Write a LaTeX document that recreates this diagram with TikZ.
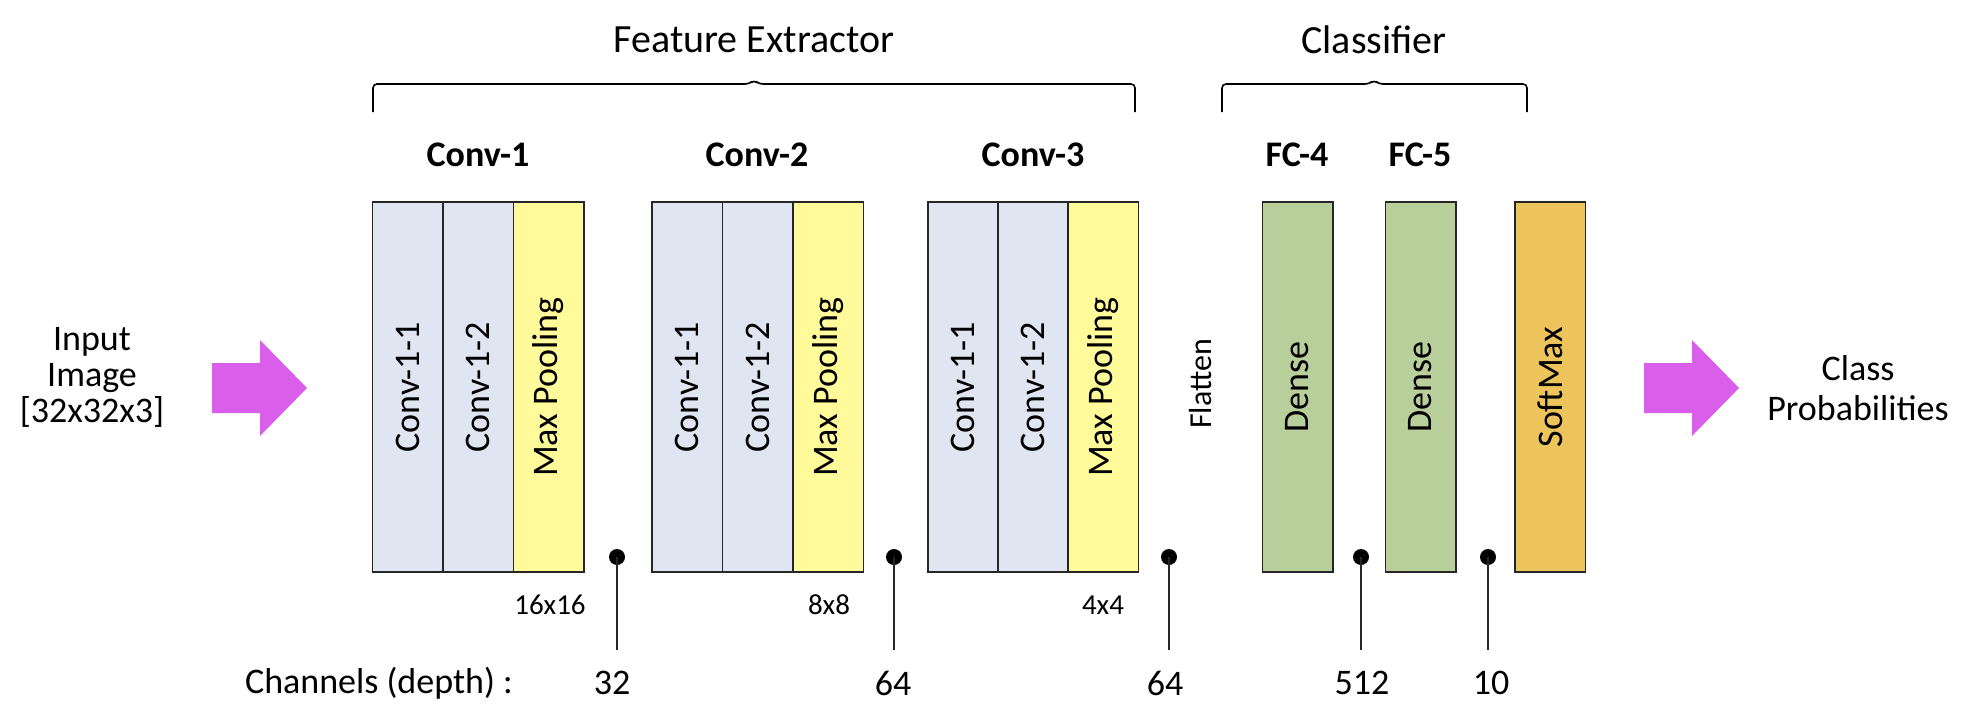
\documentclass[tikz,border=0pt]{standalone}
\usepackage{fontspec}
\setmainfont{Carlito}
\definecolor{convblue}{HTML}{DFE6F2}
\definecolor{poolyellow}{HTML}{FFFB9A}
\definecolor{densegreen}{HTML}{B8CF9B}
\definecolor{softorange}{HTML}{EDC35B}
\definecolor{arrowmagenta}{HTML}{D95FEB}
\tikzset{
    layer/.style = {rectangle, draw=black!85, line width=0.75pt, rotate=90, inner sep=0pt,
                    minimum width=185pt, minimum height=35.25pt, font=\fontsize{18}{22}\selectfont},
    convcell/.style = {layer, fill=convblue},
    poolcell/.style = {layer, fill=poolyellow},
    densecell/.style = {layer, fill=densegreen},
    softcell/.style = {layer, fill=softorange},
    blocktitle/.style = {font=\bfseries\fontsize{18}{21}\selectfont},
    grouptitle/.style = {font=\fontsize{20}{24}\selectfont},
    plaintext/.style = {align=center, font=\fontsize{18}{18}\selectfont},
    sizelabel/.style = {font=\fontsize{14.5}{17}\selectfont},
    depthlabel/.style = {font=\fontsize{18}{21}\selectfont},
    pindot/.style = {circle, fill=black, inner sep=0pt, minimum size=8pt},
    pinline/.style = {line width=1pt, draw=black!85},
    bracket/.style = {line width=0.8pt, rounded corners=2pt},
    fatarrow/.style = {fill=arrowmagenta},
}
\begin{document}
\begin{tikzpicture}[x=0.5pt,y=-0.5pt]
\useasboundingbox (0,0) rectangle (1971,725);

% group titles and brackets
\node[grouptitle] (fe) at ( 754, 40) {Feature Extractor};
\node[grouptitle] (cl) at (1374, 40) {Classifier};
\draw[bracket] (373,112) -- (373,84) -- (749,84) -- (754,80) -- (759,84) -- (1135,84) -- (1135,112);
\draw[bracket] (1222,112) -- (1222,84) -- (1369,84) -- (1374,80) -- (1379,84) -- (1527,84) -- (1527,112);

% block titles
\node[blocktitle] (t1) at ( 478,155) {Conv-1};
\node[blocktitle] (t2) at ( 757,155) {Conv-2};
\node[blocktitle] (t3) at (1033,155) {Conv-3};
\node[blocktitle] (t4) at (1297,155) {FC-4};
\node[blocktitle] (t5) at (1420,155) {FC-5};

% layers
\node[convcell] (c11) at ( 407.5,387) {Conv-1-1};
\node[convcell] (c12) at ( 478.0,387) {Conv-1-2};
\node[poolcell] (p1)  at ( 548.5,387) {Max Pooling};
\node[convcell] (c21) at ( 687.0,387) {Conv-1-1};
\node[convcell] (c22) at ( 757.5,387) {Conv-1-2};
\node[poolcell] (p2)  at ( 828.0,387) {Max Pooling};
\node[convcell] (c31) at ( 963.0,387) {Conv-1-1};
\node[convcell] (c32) at (1033.0,387) {Conv-1-2};
\node[poolcell] (p3)  at (1103.0,387) {Max Pooling};
\node[rotate=90, font=\fontsize{16}{19}\selectfont] (fl) at (1200,384) {Flatten};
\node[densecell] (f4) at (1297.5,387) {Dense};
\node[densecell] (f5) at (1420.5,387) {Dense};
\node[softcell]  (sm) at (1550.0,387) {SoftMax};

% feature map sizes
\node[sizelabel] (s1) at ( 550,605) {16x16};
\node[sizelabel] (s2) at ( 829,605) {8x8};
\node[sizelabel] (s3) at (1103,605) {4x4};

% channel pins
\node[pindot] (d1) at ( 617,557) {};
\node[pindot] (d2) at ( 894,557) {};
\node[pindot] (d3) at (1169,557) {};
\node[pindot] (d4) at (1361,557) {};
\node[pindot] (d5) at (1488,557) {};
\coordinate (e1) at ( 617,650);
\coordinate (e2) at ( 894,650);
\coordinate (e3) at (1169,650);
\coordinate (e4) at (1361,650);
\coordinate (e5) at (1488,650);
\draw[pinline] (d1.center) -- (e1);
\draw[pinline] (d2.center) -- (e2);
\draw[pinline] (d3.center) -- (e3);
\draw[pinline] (d4.center) -- (e4);
\draw[pinline] (d5.center) -- (e5);

\node[depthlabel, anchor=west] (ch) at (238,683) {Channels (depth) :};
\node[depthlabel] (n1) at ( 612,683) {32};
\node[depthlabel] (n2) at ( 893,683) {64};
\node[depthlabel] (n3) at (1165,683) {64};
\node[depthlabel] (n4) at (1362,683) {512};
\node[depthlabel] (n5) at (1491,683) {10};

% input and output
\node[plaintext] (in) at (92,377) {Input\\Image\\{[32x32x3]}};
\node[plaintext, font=\fontsize{18}{20}\selectfont] (out) at (1858,388) {Class\\Probabilities};
\fill[fatarrow] (212,363) -- (260,363) -- (260,340) -- (307,388) -- (260,436) -- (260,413) -- (212,413) -- cycle;
\fill[fatarrow] (1644,363) -- (1692,363) -- (1692,340) -- (1739,388) -- (1692,436) -- (1692,413) -- (1644,413) -- cycle;

\end{tikzpicture}
\end{document}
